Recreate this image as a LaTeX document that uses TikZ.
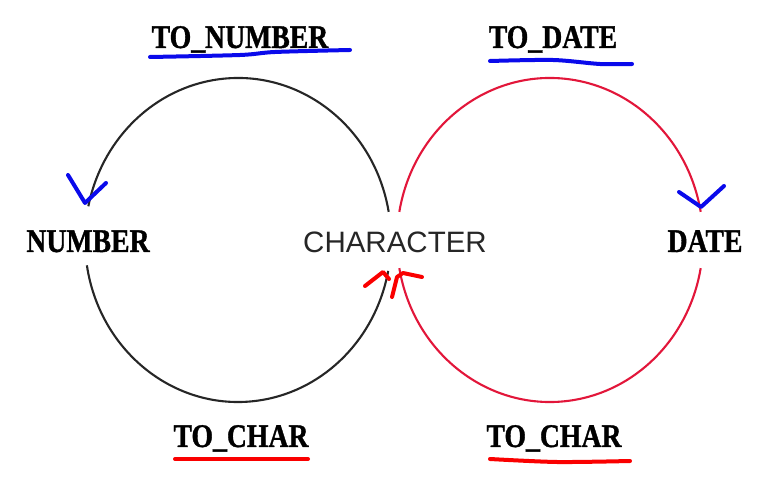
\documentclass[tikz,border=0pt]{standalone}
\usepackage{fontspec}
\usepackage{graphicx}
\setmainfont{Liberation Serif}[BoldFeatures={FakeBold=1.2}]
\setsansfont{Liberation Sans}
\definecolor{arcred}{RGB}{226,22,58}
\definecolor{penblue}{RGB}{10,10,235}
\definecolor{penred}{RGB}{250,0,0}
\newcommand{\fname}[1]{\scalebox{0.84}[1]{\bfseries #1}}
\begin{document}
\begin{tikzpicture}[x=1pt,y=1pt,
    fn/.style={anchor=base,inner sep=0pt,font=\fontsize{33}{33}\selectfont},
    tp/.style={anchor=base,inner sep=0pt,text=black!85,font=\sffamily\fontsize{29.5}{30}\selectfont},
    ring/.style={line width=2.1pt},
    pen/.style={line width=4pt,line cap=round,line join=round}]
                \useasboundingbox (0,0) rectangle (762,476);
                \coordinate (L) at (238,236);
                \coordinate (R) at (550,236);

                \node[fn] (A1) at (240,428) {\fname{TO\_NUMBER}};
                \node[fn] (A2) at (553,428) {\fname{TO\_DATE}};
                \node[fn] (B1) at (88,224) {\fname{NUMBER}};
                \node[tp] (B2) at (395,223) {CHARACTER};
                \node[fn] (B3) at (705,224) {\fname{DATE}};
                \node[fn] (C1) at (241,29) {\fname{TO\_CHAR}};
                \node[fn] (C2) at (554,29) {\fname{TO\_CHAR}};

                \draw[ring,black!85] (L) ++(10:153 and 162) arc[start angle=10,end angle=168,x radius=153,y radius=162];
                \draw[ring,black!85] (L) ++(189:153 and 162) arc[start angle=189,end angle=349,x radius=153,y radius=162];
                \draw[ring,arcred] (R) ++(170:153 and 162) arc[start angle=170,end angle=10,x radius=153,y radius=162];
                \draw[ring,arcred] (R) ++(190:153 and 162) arc[start angle=190,end angle=350,x radius=153,y radius=162];

                \draw[pen,penblue] plot[smooth] coordinates {(150,419) (240,421) (275,424) (350,426)};
                \draw[pen,penblue] plot[smooth] coordinates {(490,415) (553,416) (600,412) (632,412)};
                \draw[pen,penred] (175,17) -- (308,17);
                \draw[pen,penred] plot[smooth] coordinates {(490,17) (557,14) (630,15)};

                \draw[pen,penblue] (68,301) -- (85,273) -- (106,293);
                \draw[pen,penblue] (679,284) -- (701,269) -- (724,290);
                \draw[pen,penred] (365,190) -- (383,204) -- (389,197);
                \draw[pen,penred] (392,179) -- (397,199) -- (403,203) -- (422,199);
\end{tikzpicture}
\end{document}
